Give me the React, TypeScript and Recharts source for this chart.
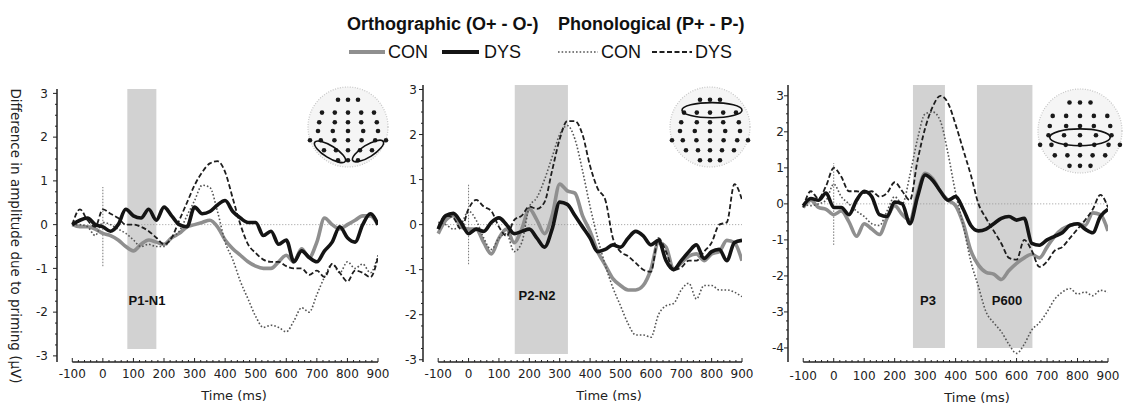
import { LineChart, Line, XAxis, YAxis, ReferenceArea, ReferenceLine } from 'recharts'

// time points (ms), sampled every 25 ms
const TIMES = [-100, -75, -50, -25, 0, 25, 50, 75, 100, 125, 150, 175, 200, 225, 250, 275, 300, 325, 350, 375, 400, 425, 450, 475, 500, 525, 550, 575, 600, 625, 650, 675, 700, 725, 750, 775, 800, 825, 850, 875, 900]

// panel 1 - P1-N1
const P1_ORTHO_CON = [0, -0.05, -0.05, -0.1, -0.2, -0.25, -0.35, -0.5, -0.6, -0.45, -0.35, -0.4, -0.45, -0.3, -0.2, -0.05, 0, 0.05, 0.1, -0.05, -0.35, -0.55, -0.7, -0.85, -0.95, -1.0, -1.0, -0.85, -0.7, -0.85, -0.55, -0.75, -0.4, 0.15, 0, -0.1, 0, 0.1, 0.2, 0.2, 0]
const P1_ORTHO_DYS = [0, 0.1, 0.15, 0, -0.05, -0.15, 0, 0.35, 0.2, 0.15, 0.35, 0.1, 0.4, 0.2, 0, -0.05, 0.4, 0.25, 0.3, 0.45, 0.55, 0.3, 0.15, 0.05, 0.05, -0.25, -0.15, -0.45, -0.35, -0.85, -0.6, -0.75, -0.85, -0.6, -0.4, -0.05, -0.3, -0.4, 0, 0.25, 0]
const P1_PHON_CON = [0, 0, -0.05, -0.25, 0.05, 0, -0.1, -0.2, -0.35, -0.5, -0.45, -0.5, -0.5, -0.3, -0.15, 0.2, 0.55, 0.9, 0.85, 0.3, -0.4, -0.8, -1.3, -1.7, -2.1, -2.35, -2.3, -2.35, -2.45, -2.2, -1.9, -2.0, -1.6, -1.2, -0.9, -1.1, -0.85, -1.0, -0.9, -1.1, -0.7]
const P1_PHON_DYS = [0, 0.35, 0.1, -0.05, 0.35, 0.25, 0.15, 0, 0, -0.05, -0.15, -0.3, -0.45, -0.3, 0.1, 0.5, 0.9, 1.2, 1.4, 1.45, 1.2, 0.6, 0, -0.45, -0.65, -0.8, -0.85, -0.85, -0.95, -1.0, -1.0, -1.15, -1.05, -1.2, -0.9, -1.1, -1.3, -1.05, -1.1, -1.2, -0.75]

// panel 2 - P2-N2
const P2_ORTHO_CON = [-0.2, 0.1, 0.2, -0.05, -0.1, -0.1, -0.4, -0.65, -0.3, -0.1, -0.4, -0.1, 0.35, 0.1, -0.2, 0.2, 0.9, 0.75, 0.7, 0.2, -0.15, -0.6, -0.9, -1.2, -1.35, -1.45, -1.45, -1.35, -1.0, -0.4, -0.5, -1.0, -0.85, -0.7, -0.65, -0.8, -0.65, -0.6, -0.35, -0.4, -0.8]
const P2_ORTHO_DYS = [-0.1, 0.2, 0.25, 0.05, -0.2, -0.1, -0.15, 0.05, 0.15, 0, -0.2, -0.15, -0.1, -0.3, -0.5, -0.1, 0.5, 0.45, 0.2, -0.05, -0.3, -0.6, -0.55, -0.45, -0.5, -0.3, -0.15, -0.25, -0.45, -0.35, -0.8, -1.0, -0.8, -0.6, -0.45, -0.75, -0.6, -0.55, -0.8, -0.4, -0.35]
const P2_PHON_CON = [0.05, 0, -0.1, 0, 0.3, 0.1, -0.3, -0.55, -0.3, -0.2, -0.6, -0.4, 0.4, 0.6, 1.0, 1.5, 2.0, 2.2, 1.9, 1.2, 0.4, -0.3, -0.9, -1.4, -1.8, -2.2, -2.45, -2.45, -2.5, -2.0, -1.8, -1.75, -1.45, -1.3, -1.65, -1.35, -1.35, -1.45, -1.45, -1.5, -1.6]
const P2_PHON_DYS = [-0.05, 0.2, 0.15, -0.1, 0.35, 0.55, 0.4, 0.3, -0.05, -0.25, 0.1, 0.2, 0.4, 0.35, 0.5, 1.2, 1.9, 2.3, 2.3, 2.0, 1.3, 0.8, 0.55, -0.3, -0.6, -0.7, -0.85, -1.0, -1.05, -0.3, -0.6, -1.0, -0.95, -0.8, -0.8, -0.6, -0.4, 0, 0.05, 0.9, 0.55]

// panel 3 - P3 / P600
const P3_ORTHO_CON = [-0.1, 0.1, -0.1, -0.15, -0.3, -0.2, -0.5, -0.9, -0.55, -0.7, -0.85, -0.4, -0.05, -0.3, -0.45, 0.3, 0.85, 0.7, 0.35, 0.1, -0.05, -0.55, -1.3, -1.7, -1.9, -1.95, -2.1, -1.85, -1.65, -1.5, -1.4, -1.5, -1.2, -0.9, -0.7, -0.6, -0.55, -0.6, -0.25, -0.3, -0.75]
const P3_ORTHO_DYS = [-0.05, 0.15, 0.1, 0.3, -0.1, -0.1, -0.3, 0.1, 0.35, 0.2, -0.3, -0.35, 0.05, 0, -0.55, 0.2, 0.8, 0.65, 0.35, 0.1, 0.2, -0.15, -0.6, -0.75, -0.7, -0.55, -0.4, -0.35, -0.45, -0.4, -1.1, -1.15, -1.0, -0.9, -0.8, -0.6, -0.55, -0.7, -0.8, -0.35, -0.15]
const P3_PHON_CON = [0, -0.05, 0, 0.1, 0.55, 0.2, 0, -0.2, -0.35, -0.55, -0.6, -0.2, 0.2, 0, 0.8, 1.8, 2.5, 2.55, 2.3, 1.4, 0.3, -0.6, -1.6, -2.3, -3.0, -3.3, -3.55, -3.9, -4.15, -3.9, -3.5, -3.3, -3.0, -2.65, -2.45, -2.35, -2.5, -2.45, -2.55, -2.4, -2.45]
const P3_PHON_DYS = [-0.1, 0.35, 0.15, 0.5, 1.0, 0.75, 0.35, 0.35, 0.3, 0.35, 0.2, 0.3, 0.6, 0.35, 0.1, 1.2, 2.1, 2.7, 3.0, 2.8, 2.2, 1.5, 0.8, 0, -0.4, -0.75, -1.1, -1.5, -1.55, -1.0, -1.3, -1.75, -1.6, -1.3, -1.2, -0.95, -0.7, -0.45, -0.15, 0.25, -0.1]

const X_TICKS = [-100, 0, 100, 200, 300, 400, 500, 600, 700, 800, 900]
const Y_TICKS_3 = [-3, -2, -1, 0, 1, 2, 3]
const Y_TICKS_4 = [-4, -3, -2, -1, 0, 1, 2, 3]

const FONT = 'DejaVu Sans'
const TITLE_FONT = 'Liberation Sans, Arial, sans-serif'

const SERIES = [
  { key: 'oc', stroke: '#8f8f8f', width: 3.6, dash: undefined },
  { key: 'pc', stroke: '#555555', width: 1.6, dash: '1.6 2' },
  { key: 'pd', stroke: '#1e1e1e', width: 1.8, dash: '5 2.5' },
  { key: 'od', stroke: '#141414', width: 3.6, dash: undefined },
]

// minor ticks between the labelled ones
const xTickList: number[] = []
for (let t = -100; t <= 900; t += 20) xTickList.push(t)

const withMinor = (major: number[], step: number) => {
  const out: number[] = []
  const lo = major[0]
  const hi = major[major.length - 1]
  for (let v = lo; v <= hi + 1e-6; v += step) out.push(Math.round(v * 100) / 100)
  return out
}

const makeXTick = (dy: number) => (props: any) => {
  const { x, y, payload } = props
  const v = payload.value
  const major = X_TICKS.includes(v)
  return (
    <g>
      <line x1={x} x2={x} y1={y} y2={y - (major ? 4 : 2)} stroke="#222" strokeWidth={1} />
      {major && (
        <text x={x} y={y + dy} textAnchor="middle" fontSize={12} fontFamily={FONT} fill="#222">
          {v}
        </text>
      )}
    </g>
  )
}

const makeYTick = (gap: number) => (props: any) => {
  const { x, y, payload } = props
  const v = payload.value
  const major = Math.abs(v - Math.round(v)) < 1e-6
  return (
    <g>
      <line x1={x} x2={x - (major ? 4 : 2)} y1={y} y2={y} stroke="#222" strokeWidth={1} />
      {major && (
        <text x={x - gap} y={y + 4.3} textAnchor="end" fontSize={12} fontFamily={FONT} fill="#222">
          {v}
        </text>
      )}
    </g>
  )
}

const PANELS = [
  {
    left: 0, width: 392, margin: { top: 89, right: 14, bottom: 0, left: 17 }, xAxisHeight: 47,
    yDomain: [-3.14, 3.1], yTicks: Y_TICKS_3, onset: [-0.95, 0.86], xLabelDy: 16, yGap: 9,
    shades: [{ x1: 80, x2: 175, y1: -2.84, y2: 3.1 }],
    oc: P1_ORTHO_CON, od: P1_ORTHO_DYS, pc: P1_PHON_CON, pd: P1_PHON_DYS,
  },
  {
    left: 380, width: 376, margin: { top: 85, right: 14, bottom: 0, left: 3 }, xAxisHeight: 47,
    yDomain: [-3.05, 3.1], yTicks: Y_TICKS_3, onset: [-0.88, 0.9], xLabelDy: 16, yGap: 6,
    shades: [{ x1: 152, x2: 327, y1: -2.87, y2: 3.1 }],
    oc: P2_ORTHO_CON, od: P2_ORTHO_DYS, pc: P2_PHON_CON, pd: P2_PHON_DYS,
  },
  {
    left: 748, width: 380, margin: { top: 85, right: 20, bottom: 0, left: 0 }, xAxisHeight: 47,
    yDomain: [-4.39, 3.3], yTicks: Y_TICKS_4, onset: [-1.14, 1.13], xLabelDy: 18, yGap: 4,
    shades: [
      { x1: 260, x2: 365, y1: -4.0, y2: 3.3 },
      { x1: 470, x2: 652, y1: -4.0, y2: 3.3 },
    ],
    oc: P3_ORTHO_CON, od: P3_ORTHO_DYS, pc: P3_PHON_CON, pd: P3_PHON_DYS,
  },
]

function Panel({ cfg }: { cfg: any }) {
  const data = TIMES.map((t, i) => ({ t, oc: cfg.oc[i], od: cfg.od[i], pc: cfg.pc[i], pd: cfg.pd[i] }))
  const yMin = cfg.yDomain[0]
  return (
    <div style={{ position: 'absolute', left: cfg.left, top: 0 }}>
      <LineChart width={cfg.width} height={409} data={data} margin={cfg.margin}>
        <XAxis
          type="number" dataKey="t" domain={[-150, 900]} ticks={xTickList} interval={0}
          tick={makeXTick(cfg.xLabelDy)} tickLine={false} tickSize={0} tickMargin={0}
          axisLine={false} height={cfg.xAxisHeight} allowDataOverflow
        />
        <YAxis
          type="number" domain={cfg.yDomain} ticks={withMinor(cfg.yTicks, 0.25)} interval={0}
          tick={makeYTick(cfg.yGap)} tickLine={false} tickSize={0} tickMargin={0}
          axisLine={{ stroke: '#222', strokeWidth: 1.5 }} width={40} allowDataOverflow
        />
        {cfg.shades.map((s: any, i: number) => (
          <ReferenceArea key={i} x1={s.x1} x2={s.x2} y1={s.y1} y2={s.y2} fill="#d2d2d2" fillOpacity={1} stroke="none" ifOverflow="visible" />
        ))}
        <ReferenceLine segment={[{ x: -100, y: 0 }, { x: 900, y: 0 }]} stroke="#999" strokeDasharray="1 2" />
        <ReferenceLine segment={[{ x: 0, y: cfg.onset[0] }, { x: 0, y: cfg.onset[1] }]} stroke="#777" strokeDasharray="1.5 1.5" />
        <ReferenceLine segment={[{ x: -100, y: yMin }, { x: 900, y: yMin }]} stroke="#222" strokeWidth={1.5} ifOverflow="visible" />
        {SERIES.map((s) => (
          <Line
            key={s.key} dataKey={s.key} type="monotone" stroke={s.stroke} strokeWidth={s.width}
            strokeDasharray={s.dash} dot={false} activeDot={false} isAnimationActive={false}
          />
        ))}
      </LineChart>
    </div>
  )
}

// electrode montage used for the little scalp maps
const HEAD_ROWS = [
  { y: -0.68, xs: [-0.25, 0, 0.25] },
  { y: -0.36, xs: [-0.65, -0.33, 0, 0.33, 0.65] },
  { y: -0.12, xs: [-0.72, -0.33, 0, 0.33, 0.72] },
  { y: 0.1, xs: [-0.75, -0.38, 0, 0.38, 0.75] },
  { y: 0.33, xs: [-0.95, -0.68, -0.34, 0, 0.34, 0.68, 0.95] },
  { y: 0.58, xs: [-0.6, -0.3, 0, 0.3, 0.6] },
  { y: 0.83, xs: [-0.25, 0, 0.25] },
]

function Head({ cx, cy, r, ellipses }: { cx: number; cy: number; r: number; ellipses: any[] }) {
  return (
    <g>
      <circle cx={cx} cy={cy} r={r} fill="#f5f5f5" stroke="#c4c4c4" strokeWidth={1.2} strokeDasharray="1 1.5" />
      {HEAD_ROWS.flatMap((row, i) =>
        row.xs.map((x, j) => <circle key={`${i}-${j}`} cx={cx + x * r} cy={cy + row.y * r} r={2.3} fill="#1a1a1a" />)
      )}
      {ellipses.map((e, i) => (
        <ellipse
          key={i} cx={cx + e.dx * r} cy={cy + e.dy * r} rx={e.rx * r} ry={e.ry * r}
          transform={`rotate(${e.rot} ${cx + e.dx * r} ${cy + e.dy * r})`}
          fill="none" stroke="#111" strokeWidth={1.6}
        />
      ))}
    </g>
  )
}

function Overlay() {
  const lbl = { fontFamily: FONT, fontSize: 13, fill: '#222' }
  const big = { fontFamily: TITLE_FONT, fontSize: 18, fill: '#111' }
  const peak = { fontFamily: TITLE_FONT, fontSize: 13, fontWeight: 700, fill: '#111', textAnchor: 'middle' as const }
  return (
    <svg width={1130} height={409} style={{ position: 'absolute', left: 0, top: 0, pointerEvents: 'none' }}>
      <text x={347} y={30} {...big} fontWeight={700}>Orthographic (O+ - O-)</text>
      <text x={558} y={30} {...big} fontWeight={700}>Phonological (P+ - P-)</text>

      <line x1={349} x2={385} y1={52} y2={52} stroke="#8f8f8f" strokeWidth={4} />
      <text x={388} y={58} {...big}>CON</text>
      <line x1={442} x2={479} y1={52} y2={52} stroke="#141414" strokeWidth={4} />
      <text x={484} y={58} {...big}>DYS</text>
      <line x1={558} x2={598} y1={52} y2={52} stroke="#555" strokeWidth={1.6} strokeDasharray="1.6 2" />
      <text x={601} y={58} {...big}>CON</text>
      <line x1={652} x2={692} y1={52} y2={52} stroke="#1e1e1e" strokeWidth={1.8} strokeDasharray="5 2.5" />
      <text x={695} y={58} {...big}>DYS</text>

      <text transform="translate(11 236) rotate(90)" textAnchor="middle" fontFamily={FONT} fontSize={13.5} fill="#222">
        Difference in amplitude due to priming (µV)
      </text>

      <text x={234} y={400} textAnchor="middle" {...lbl}>Time (ms)</text>
      <text x={609} y={400} textAnchor="middle" {...lbl}>Time (ms)</text>
      <text x={977} y={402} textAnchor="middle" {...lbl}>Time (ms)</text>

      <text x={147} y={305} {...peak}>P1-N1</text>
      <text x={537} y={300} {...peak}>P2-N2</text>
      <text x={928} y={305} {...peak}>P3</text>
      <text x={1007} y={305} {...peak}>P600</text>

      <Head cx={348} cy={127} r={40} ellipses={[
        { dx: -0.45, dy: 0.62, rx: 0.45, ry: 0.15, rot: 32 },
        { dx: 0.5, dy: 0.6, rx: 0.45, ry: 0.15, rot: -32 },
      ]} />
      <Head cx={710} cy={127} r={40} ellipses={[{ dx: 0.05, dy: -0.42, rx: 0.75, ry: 0.19, rot: 0 }]} />
      <Head cx={1080} cy={131} r={42} ellipses={[{ dx: 0, dy: 0.15, rx: 0.72, ry: 0.2, rot: 0 }]} />
    </svg>
  )
}

export default function App() {
  return (
    <div style={{ position: 'absolute', left: 0, top: 0, width: 1130, height: 409, background: '#fff', overflow: 'hidden' }}>
      {PANELS.map((cfg, i) => (
        <Panel key={i} cfg={cfg} />
      ))}
      <Overlay />
    </div>
  )
}
